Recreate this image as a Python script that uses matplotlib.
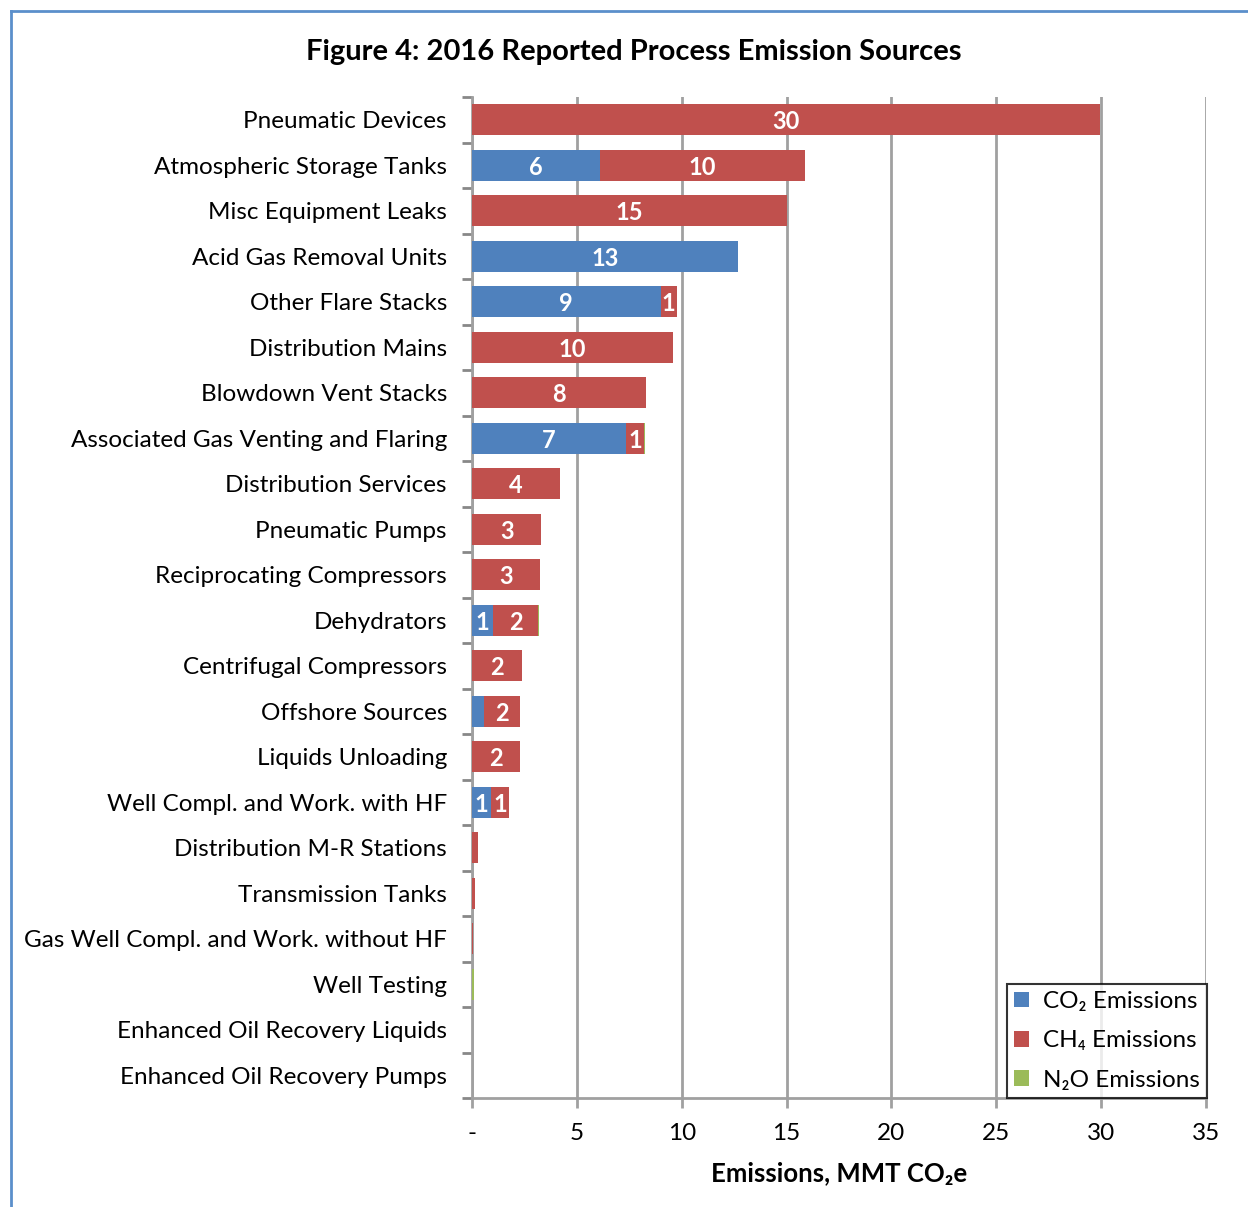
import numpy as np
import matplotlib.pyplot as plt
from matplotlib.lines import Line2D

plt.rcParams['font.family'] = ['Lato', 'DejaVu Sans']

categories = ['Pneumatic Devices', 'Atmospheric Storage Tanks', 'Misc Equipment Leaks',
              'Acid Gas Removal Units', 'Other Flare Stacks', 'Distribution Mains',
              'Blowdown Vent Stacks', 'Associated Gas Venting and Flaring',
              'Distribution Services', 'Pneumatic Pumps', 'Reciprocating Compressors',
              'Dehydrators', 'Centrifugal Compressors', 'Offshore Sources',
              'Liquids Unloading', 'Well Compl. and Work. with HF',
              'Distribution M-R Stations', 'Transmission Tanks',
              'Gas Well Compl. and Work. without HF', 'Well Testing',
              'Enhanced Oil Recovery Liquids', 'Enhanced Oil Recovery Pumps']
co2 = [0.0, 6.1, 0.0, 12.7, 9.0, 0.0, 0.0, 7.35, 0.0, 0.0, 0.0, 1.0, 0.0, 0.57,
       0.0, 0.9, 0.0, 0.0, 0.0, 0.0, 0.0, 0.0]
ch4 = [29.95, 9.8, 15.0, 0.0, 0.76, 9.6, 8.3, 0.86, 4.2, 3.3, 3.25, 2.15, 2.4, 1.7,
       2.3, 0.86, 0.3, 0.15, 0.05, 0.02, 0.0, 0.0]
n2o = [0.0, 0.0, 0.0, 0.0, 0.0, 0.0, 0.0, 0.02, 0.0, 0.0, 0.0, 0.03, 0.0, 0.03,
       0.0, 0.02, 0.0, 0.0, 0.0, 0.06, 0.0, 0.0]
xticks = [0, 5, 10, 15, 20, 25, 30, 35]
xticklabels = ['-', '5', '10', '15', '20', '25', '30', '35']

blue, red, green = '#4F81BD', '#C0504D', '#9BBB59'
grid_c = '#A0A0A0'

fig = plt.figure(figsize=(12.48, 12.07), dpi=100)
ax = fig.add_axes([0.3782, 0.0903, 0.5881, 0.8293])

y = np.arange(len(categories))
co2 = np.array(co2); ch4 = np.array(ch4); n2o = np.array(n2o)
h = 0.68
ax.barh(y, co2, height=h, color=blue, label='CO₂ Emissions', zorder=3)
ax.barh(y, ch4, height=h, left=co2, color=red, label='CH₄ Emissions', zorder=3)
ax.barh(y, n2o, height=h, left=co2 + ch4, color=green, label='N₂O Emissions', zorder=3)

# data labels (white, bold) for segments large enough
for i in range(len(categories)):
    for left, val in ((0, co2[i]), (co2[i], ch4[i])):
        if val >= 0.7:
            ax.text(left + val / 2, i + 0.04, f'{val:.0f}', ha='center', va='center',
                    color='white', fontweight='bold', fontsize=17, zorder=4)

ax.set_xlim(0, 35)
ax.set_ylim(len(categories) - 0.5, -0.5)
ax.set_xticks(xticks)
ax.set_xticklabels(xticklabels, fontsize=17.5)
ax.xaxis.grid(True, color=grid_c, linewidth=2, zorder=0)
ax.set_axisbelow(True)

ax.set_yticks(y)
ax.set_yticklabels(categories, fontsize=17.5)
ax.set_yticks(np.arange(-0.5, len(categories) + 0.5), minor=True)
ax.tick_params(axis='y', which='major', length=0, pad=18)
ax.tick_params(axis='y', which='minor', length=7, width=2, color='#888888')
ax.tick_params(axis='x', length=7, width=2, color=grid_c, pad=11)

for s in ('top', 'right'):
    ax.spines[s].set_visible(False)
for s in ('left', 'bottom'):
    ax.spines[s].set_color(grid_c)
    ax.spines[s].set_linewidth(2)

ax.set_xlabel('Emissions, MMT CO₂e', fontsize=18.5, fontweight='bold', labelpad=12)
fig.text(0.508, 0.957, 'Figure 4: 2016 Reported Process Emission Sources',
         ha='center', va='center', fontsize=21, fontweight='bold')

leg = ax.legend(loc='lower right', bbox_to_anchor=(1.002, 0.0), fontsize=17.5,
                frameon=True, fancybox=False, edgecolor='black', handlelength=0.6,
                handleheight=0.6, borderpad=0.3, labelspacing=0.75, handletextpad=0.6,
                borderaxespad=0.0)
leg.get_frame().set_linewidth(1.5)

# outer blue frame (partially cropped)
fx, fy = 11 / 1248, 1 - 11 / 1207
fig.add_artist(Line2D([fx, fx], [0, fy], color='#5B8FCB', linewidth=2,
                      transform=fig.transFigure))
fig.add_artist(Line2D([fx, 1], [fy, fy], color='#5B8FCB', linewidth=2,
                      transform=fig.transFigure))

fig.savefig('out.png', dpi=100)
